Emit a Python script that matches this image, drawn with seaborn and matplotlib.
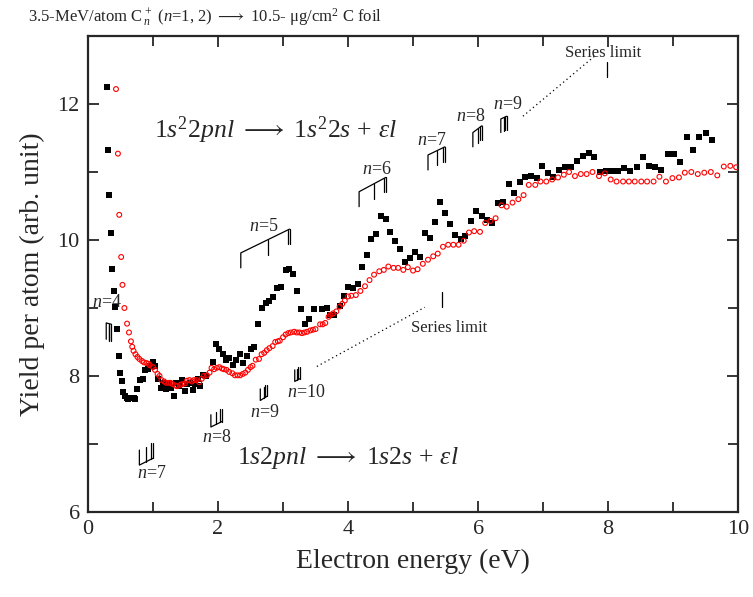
import numpy as np
import pandas as pd
import matplotlib
matplotlib.use("Agg")
import matplotlib.pyplot as plt
import seaborn as sns
from matplotlib.ticker import MultipleLocator

# ==============================
# Data
# ==============================

# black squares
black_energy = [0.29, 0.31, 0.33, 0.35, 0.37, 0.40, 0.42, 0.45, 0.47, 0.49,
                0.52, 0.54, 0.57, 0.60, 0.62, 0.66, 0.70, 0.73, 0.76, 0.80,
                0.84, 0.88, 0.92, 0.96, 1.00, 1.03, 1.08, 1.12, 1.16, 1.20,
                1.24, 1.28, 1.32, 1.36, 1.40, 1.44, 1.49, 1.53, 1.57, 1.62,
                1.65, 1.69, 1.73, 1.77, 1.81, 1.92, 1.97, 2.02, 2.07, 2.12,
                2.17, 2.23, 2.28, 2.34, 2.39, 2.45, 2.50, 2.56, 2.62, 2.67,
                2.74, 2.79, 2.85, 2.91, 2.97, 3.04, 3.09, 3.16, 3.22, 3.28,
                3.34, 3.40, 3.48, 3.60, 3.67, 3.72, 3.78, 3.87, 3.93, 4.00,
                4.07, 4.15, 4.22, 4.29, 4.36, 4.43, 4.50, 4.58, 4.65, 4.72,
                4.80, 4.88, 4.95, 5.03, 5.10, 5.18, 5.26, 5.33, 5.41, 5.49,
                5.57, 5.65, 5.73, 5.80, 5.89, 5.97, 6.06, 6.14, 6.22, 6.30,
                6.38, 6.47, 6.55, 6.64, 6.72, 6.81, 6.90, 6.98, 7.07, 7.16,
                7.25, 7.34, 7.43, 7.52, 7.61, 7.70, 7.79, 7.88, 7.97, 8.06,
                8.16, 8.25, 8.34, 8.44, 8.53, 8.63, 8.72, 8.82, 8.92, 9.02,
                9.11, 9.21, 9.31, 9.40, 9.50, 9.60]
black_yield = [12.25, 11.32, 10.66, 10.11, 9.58, 9.25, 9.01, 8.69, 8.29, 8.05,
               7.92, 7.77, 7.70, 7.67, 7.66, 7.68, 7.67, 7.66, 7.81, 7.94,
               7.96, 8.09, 8.10, 8.15, 8.21, 8.14, 7.96, 7.82, 7.89, 7.81,
               7.88, 7.83, 7.71, 7.90, 7.85, 7.94, 7.78, 7.88, 7.89, 7.79,
               7.88, 7.95, 7.85, 8.01, 8.00, 8.20, 8.47, 8.40, 8.33, 8.24,
               8.26, 8.16, 8.24, 8.32, 8.19, 8.29, 8.39, 8.43, 8.76, 9.00,
               9.08, 9.10, 9.16, 9.29, 9.31, 9.56, 9.58, 9.50, 9.25, 8.99,
               8.76, 8.84, 8.98, 8.99, 9.00, 8.90, 8.89, 9.03, 9.17, 9.31,
               9.29, 9.35, 9.60, 9.78, 10.01, 10.09, 10.35, 10.31, 10.12, 9.99,
               9.87, 9.67, 9.73, 9.83, 9.75, 10.10, 10.03, 10.26, 10.56, 10.39,
               10.23, 10.08, 10.02, 10.06, 10.28, 10.42, 10.35, 10.29, 10.25, 10.55,
               10.56, 10.82, 10.69, 10.85, 10.93, 10.94, 10.91, 11.09, 10.98, 10.93,
               11.03, 11.07, 11.08, 11.16, 11.24, 11.28, 11.22, 11.00, 11.02, 11.02,
               11.02, 11.06, 11.01, 11.08, 11.22, 11.09, 11.08, 11.03, 11.27, 11.26,
               11.15, 11.51, 11.32, 11.51, 11.58, 11.47]

# red open circles
red_energy = [0.43, 0.46, 0.48, 0.51, 0.53, 0.56, 0.60, 0.63, 0.66, 0.68,
              0.70, 0.73, 0.76, 0.79, 0.83, 0.86, 0.90, 0.93, 0.95, 1.00,
              1.03, 1.07, 1.10, 1.13, 1.17, 1.20, 1.24, 1.27, 1.30, 1.34,
              1.37, 1.42, 1.45, 1.49, 1.52, 1.56, 1.60, 1.63, 1.67, 1.71,
              1.75, 1.78, 1.83, 1.87, 1.90, 1.94, 1.98, 2.02, 2.06, 2.09,
              2.13, 2.17, 2.22, 2.26, 2.30, 2.34, 2.38, 2.42, 2.46, 2.50,
              2.53, 2.58, 2.63, 2.67, 2.71, 2.75, 2.79, 2.84, 2.88, 2.92,
              2.95, 3.00, 3.04, 3.08, 3.12, 3.17, 3.21, 3.25, 3.29, 3.33,
              3.37, 3.42, 3.46, 3.50, 3.57, 3.61, 3.65, 3.70, 3.73, 3.77,
              3.82, 3.87, 3.91, 3.95, 4.00, 4.05, 4.12, 4.19, 4.26, 4.33,
              4.40, 4.48, 4.55, 4.62, 4.70, 4.77, 4.85, 4.92, 5.00, 5.07,
              5.15, 5.23, 5.31, 5.38, 5.46, 5.54, 5.62, 5.70, 5.78, 5.86,
              5.94, 6.03, 6.11, 6.19, 6.27, 6.36, 6.44, 6.53, 6.62, 6.70,
              6.78, 6.88, 6.96, 7.05, 7.14, 7.23, 7.32, 7.40, 7.49, 7.58,
              7.67, 7.76, 7.86, 7.95, 8.04, 8.13, 8.23, 8.32, 8.41, 8.51,
              8.60, 8.70, 8.79, 8.89, 8.99, 9.09, 9.18, 9.28, 9.38, 9.48,
              9.58, 9.68, 9.78, 9.88, 9.97]
red_yield = [12.22, 11.27, 10.37, 9.75, 9.34, 9.00, 8.77, 8.64, 8.51, 8.43,
             8.37, 8.32, 8.28, 8.25, 8.22, 8.20, 8.19, 8.18, 8.16, 8.13,
             8.09, 8.03, 8.00, 7.94, 7.92, 7.90, 7.90, 7.90, 7.88, 7.86,
             7.85, 7.87, 7.88, 7.89, 7.93, 7.94, 7.92, 7.94, 7.94, 7.91,
             7.96, 8.00, 8.01, 8.05, 8.12, 8.10, 8.12, 8.13, 8.11, 8.10,
             8.09, 8.06, 8.04, 8.01, 8.01, 8.01, 8.03, 8.05, 8.09, 8.13,
             8.15, 8.24, 8.25, 8.32, 8.34, 8.38, 8.41, 8.44, 8.50, 8.51,
             8.52, 8.57, 8.61, 8.63, 8.64, 8.65, 8.64, 8.64, 8.63, 8.64,
             8.65, 8.67, 8.68, 8.69, 8.76, 8.76, 8.78, 8.87, 8.90, 8.92,
             8.95, 9.02, 9.06, 9.11, 9.17, 9.18, 9.19, 9.25, 9.32, 9.41,
             9.49, 9.54, 9.56, 9.61, 9.59, 9.59, 9.56, 9.60, 9.55, 9.57,
             9.65, 9.71, 9.76, 9.80, 9.90, 9.93, 9.93, 9.93, 9.99, 10.11,
             10.13, 10.12, 10.25, 10.28, 10.32, 10.51, 10.49, 10.55, 10.60, 10.66,
             10.81, 10.81, 10.86, 10.86, 10.89, 10.92, 10.96, 11.00, 10.94, 10.97,
             10.97, 11.00, 10.94, 10.98, 10.89, 10.86, 10.86, 10.86, 10.86, 10.86,
             10.86, 10.86, 10.93, 10.86, 10.91, 10.92, 10.99, 11.00, 10.97, 10.99,
             11.00, 10.95, 11.08, 11.09, 11.07]

df_black = pd.DataFrame({"energy": black_energy, "yield": black_yield})
df_red = pd.DataFrame({"energy": red_energy, "yield": red_yield})

# ==============================
# Style
# ==============================

sns.set_style("ticks")
plt.rcParams["font.family"] = ["Liberation Serif", "DejaVu Serif"]
plt.rcParams["mathtext.fontset"] = "custom"
plt.rcParams["mathtext.rm"] = "Liberation Serif"
plt.rcParams["mathtext.it"] = "Liberation Serif:italic"
plt.rcParams["mathtext.bf"] = "Liberation Serif:bold"

fig = plt.figure(figsize=(7.53, 5.97), dpi=100)
ax = fig.add_axes([0.1169, 0.1424, 0.8633, 0.7973])

sns.scatterplot(data=df_black, x="energy", y="yield", ax=ax, marker="s",
                color="black", s=14, linewidth=0, zorder=3)
sns.scatterplot(data=df_red, x="energy", y="yield", ax=ax, marker="o",
                facecolor="none", edgecolor="red", s=12, linewidth=0.8, zorder=3)

ax.set_xlim(0, 10)
ax.set_ylim(6, 13)
ax.xaxis.set_major_locator(MultipleLocator(2))
ax.xaxis.set_minor_locator(MultipleLocator(1))
ax.yaxis.set_major_locator(MultipleLocator(2))
ax.yaxis.set_minor_locator(MultipleLocator(1))
ax.tick_params(which="both", direction="in", top=True, right=True, width=1.3)
ax.tick_params(which="major", length=8, labelsize=16, pad=6)
ax.tick_params(which="minor", length=7)
for sp in ax.spines.values():
    sp.set_linewidth(1.6)

ax.set_xlabel("Electron energy (eV)", fontsize=20, labelpad=7)
ax.set_ylabel("Yield per atom (arb. unit)", fontsize=20, labelpad=9)

fig.text(0.037, 0.972, r"3.5-MeV/atom C$_{\,n}^{\,+}$ ($n$=1, 2) $\longrightarrow$ 10.5- μg/cm$^2$ C foil",
         fontsize=12, ha="left", va="center")

# ==============================
# Level markers
# ==============================

def upper_mark(xl, xr, yl, yr, h, double=True):
    ax.plot([xl, xl, xr], [yl - h, yl, yr], color="black", lw=0.9)
    xm = xl + 0.55 * (xr - xl)
    ym = yl + 0.55 * (yr - yl)
    ax.plot([xm, xm], [ym, ym - h], color="black", lw=0.9)
    ax.plot([xr, xr], [yr, yr - h], color="black", lw=0.9)
    if double:
        ax.plot([xr - 0.03, xr - 0.03], [yr - 0.006, yr - h], color="black", lw=0.9)


def lower_mark(xl, xr, yl, yr, h, double=True):
    ax.plot([xl, xl, xr], [yl + h, yl, yr], color="black", lw=0.9)
    xm = xl + 0.5 * (xr - xl)
    ym = yl + 0.5 * (yr - yl)
    ax.plot([xm, xm], [ym, ym + h], color="black", lw=0.9)
    ax.plot([xr, xr], [yr, yr + h], color="black", lw=0.9)
    if double:
        ax.plot([xr - 0.03, xr - 0.03], [yr - 0.006, yr + h], color="black", lw=0.9)


upper_mark(0.28, 0.36, 8.78, 8.76, 0.24)
upper_mark(2.35, 3.10, 9.81, 10.16, 0.22)
upper_mark(4.17, 4.58, 10.71, 10.92, 0.22)
upper_mark(5.23, 5.49, 11.25, 11.37, 0.22)
upper_mark(5.92, 6.06, 11.58, 11.68, 0.21)
upper_mark(6.35, 6.44, 11.78, 11.82, 0.2)

lower_mark(0.79, 1.00, 6.69, 6.79, 0.22)
lower_mark(1.89, 2.06, 7.25, 7.33, 0.18)
lower_mark(2.65, 2.75, 7.64, 7.70, 0.17)
lower_mark(3.18, 3.26, 7.92, 7.96, 0.17)

lab = dict(fontsize=13, ha="center", va="center")
ax.text(0.29, 9.08, "$n$=4", **lab)
ax.text(2.70, 10.20, "$n$=5", **lab)
ax.text(4.44, 11.04, "$n$=6", **lab)
ax.text(5.29, 11.47, "$n$=7", **lab)
ax.text(5.89, 11.81, "$n$=8", **lab)
ax.text(6.45, 11.99, "$n$=9", **lab)
ax.text(0.98, 6.57, "$n$=7", **lab)
ax.text(1.98, 7.10, "$n$=8", **lab)
ax.text(2.72, 7.47, "$n$=9", **lab)
ax.text(3.36, 7.75, "$n$=10", **lab)

# series limits
ax.plot([6.69, 7.80], [11.82, 12.71], color="black", lw=0.9, ls=(0, (1, 2.5)))
ax.plot([7.98, 7.98], [12.40, 12.62], color="black", lw=0.9)
ax.text(7.92, 12.75, "Series limit", fontsize=12, ha="center", va="center")

ax.plot([3.52, 5.18], [8.14, 9.01], color="black", lw=0.9, ls=(0, (1, 2.5)))
ax.plot([5.44, 5.44], [9.02, 9.24], color="black", lw=0.9)
ax.text(5.55, 8.71, "Series limit", fontsize=12, ha="center", va="center")

# transitions
ax.text(1.02, 11.62, r"$1s^22pnl\ \longrightarrow\ 1s^22s\,+\,\varepsilon l$",
        fontsize=18.5, ha="left", va="center")
ax.text(2.29, 6.79, r"$1s2pnl\ \longrightarrow\ 1s2s\,+\,\varepsilon l$",
        fontsize=18.5, ha="left", va="center")

fig.savefig("out.png", dpi=100)
